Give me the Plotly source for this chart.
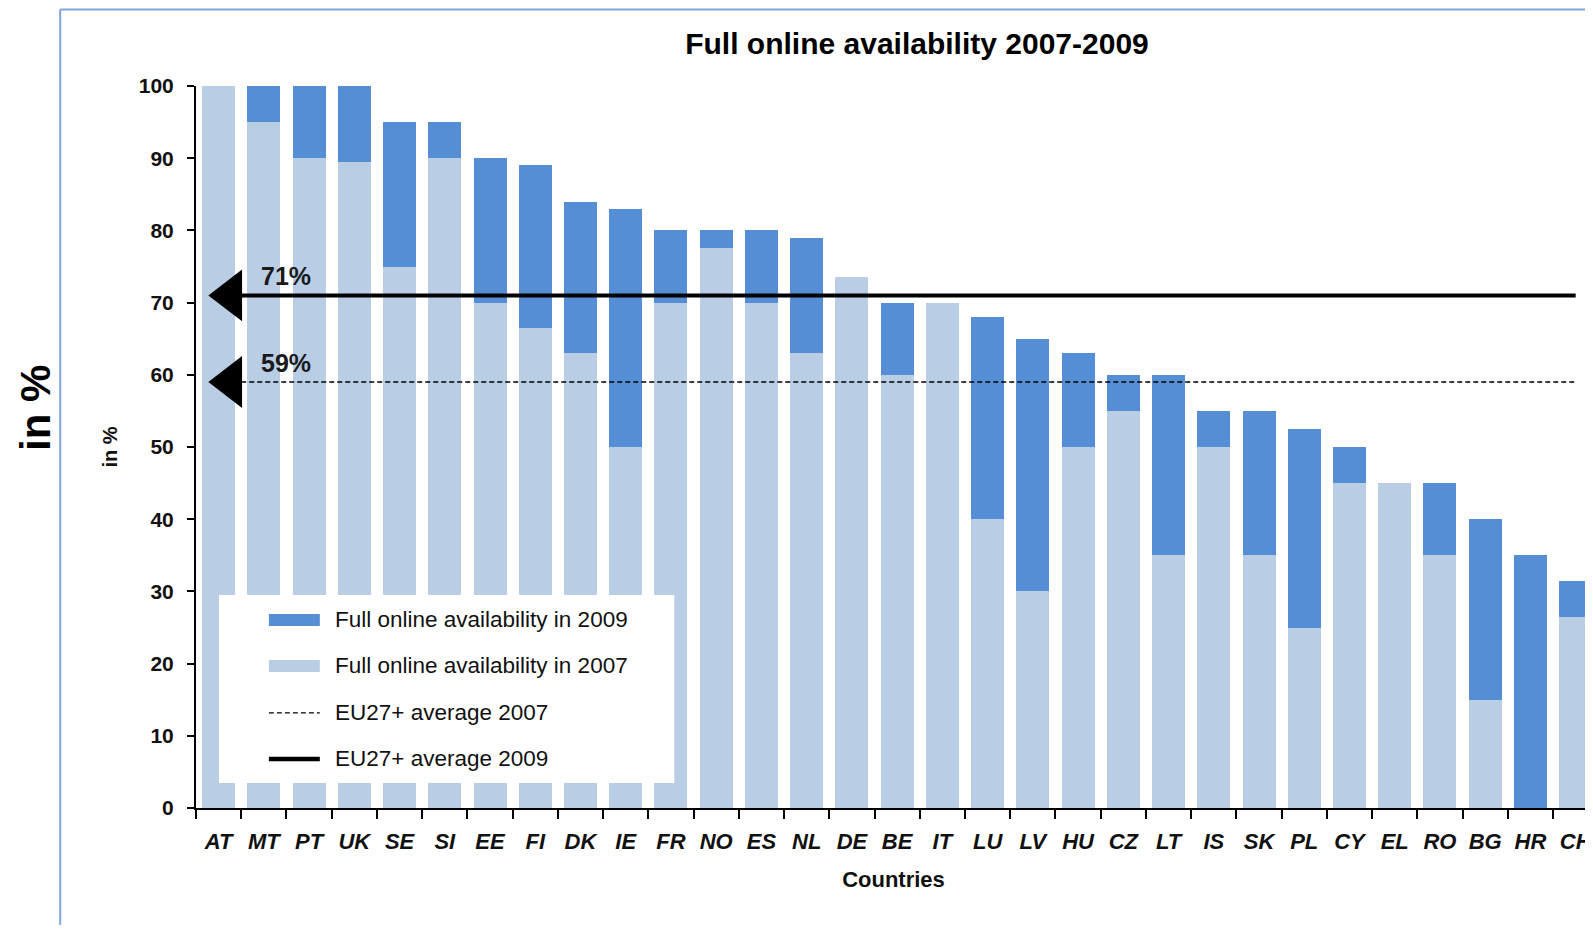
"""
Full online availability 2007-2009
Overlaid bar chart of 2007 vs 2009 values per country with EU27+ averages
"""

import plotly.graph_objects as go

# Data
countries = ['AT', 'MT', 'PT', 'UK', 'SE', 'SI', 'EE', 'FI', 'DK', 'IE', 'FR',
             'NO', 'ES', 'NL', 'DE', 'BE', 'IT', 'LU', 'LV', 'HU', 'CZ', 'LT',
             'IS', 'SK', 'PL', 'CY', 'EL', 'RO', 'BG', 'HR', 'CH']
avail_2009 = [100, 100, 100, 100, 95, 95, 90, 89, 84, 83, 80,
              80, 80, 79, 73.5, 70, 70, 68, 65, 63, 60, 60,
              55, 55, 52.5, 50, 45, 45, 40, 35, 31.5]
avail_2007 = [100, 95, 90, 89.5, 75, 90, 70, 66.5, 63, 50, 70,
              77.5, 70, 63, 73.5, 60, 70, 40, 30, 50, 55, 35,
              50, 35, 25, 45, 45, 35, 15, 0, 26.5]
eu_avg_2007 = 59
eu_avg_2009 = 71

# Page geometry. The html body has an 8px margin, so the figure is a bit
# smaller than the window and all "page" pixel positions are shifted by 8.
PAGE_OFF = 8
W, H = 1585, 917
L, T = 188, 78.4
PLOT_BOTTOM = 800
R, B = 0, H - PLOT_BOTTOM
PLOT_W = W - L - R
PLOT_H = PLOT_BOTTOM - T
CAT_W = 45.3  # pixels per country

DARK = '#558ED5'
LIGHT = '#B9CDE5'
FRAME = '#7FA6DC'
FONT = 'Liberation Sans, Arial, sans-serif'


def px(x):
    """Page pixel x -> paper x."""
    return (x - PAGE_OFF - L) / PLOT_W


def py(y):
    """Page pixel y (from top) -> paper y."""
    return (PLOT_BOTTOM - (y - PAGE_OFF)) / PLOT_H


def main():
    idx = list(range(len(countries)))
    fig = go.Figure()

    # Bars: 2009 behind, 2007 overlaid on top
    fig.add_trace(go.Bar(x=idx, y=avail_2009, width=0.73, marker=dict(color=DARK, line_width=0),
                         name='Full online availability in 2009', showlegend=False))
    fig.add_trace(go.Bar(x=idx, y=avail_2007, width=0.73, marker=dict(color=LIGHT, line_width=0),
                         name='Full online availability in 2007', showlegend=False))

    # Average lines with arrow heads on the left
    line_x = [0.5, idx[-1]]
    fig.add_trace(go.Scatter(x=line_x, y=[eu_avg_2007] * 2, mode='lines',
                             line=dict(color='black', width=1.3, dash='5px,3px'),
                             name='EU27+ average 2007', showlegend=False))
    fig.add_trace(go.Scatter(x=line_x, y=[eu_avg_2009] * 2, mode='lines',
                             line=dict(color='black', width=4),
                             name='EU27+ average 2009', showlegend=False))
    fig.add_trace(go.Scatter(x=[0.27, 0.27], y=[eu_avg_2009, eu_avg_2007], mode='markers',
                             marker=dict(symbol='triangle-left', size=45, color='black'),
                             showlegend=False, hoverinfo='skip'))

    annotations = []
    for avg in (eu_avg_2009, eu_avg_2007):
        annotations.append(dict(x=1.5, y=avg, xref='x', yref='y', yshift=19,
                                text=f'{avg}%', showarrow=False,
                                font=dict(family=FONT, size=25, color='#1a1a1a', weight='bold')))

    # Big rotated label on the far left
    annotations.append(dict(x=px(36), y=py(408), xref='paper', yref='paper',
                            xanchor='center', yanchor='middle',
                            text='in %', textangle=-90, showarrow=False,
                            font=dict(family=FONT, size=42, color='black', weight='bold')))

    shapes = [
        # outer frame
        dict(type='line', xref='paper', yref='paper', x0=px(60), x1=px(60), y0=py(10), y1=py(H + 40),
             line=dict(color=FRAME, width=2)),
        dict(type='line', xref='paper', yref='paper', x0=px(60), x1=px(W + 40), y0=py(10), y1=py(10),
             line=dict(color=FRAME, width=2)),
        # legend box
        dict(type='rect', xref='paper', yref='paper', layer='above', x0=px(219), x1=px(675),
             y0=py(595), y1=py(783), fillcolor='white', line_width=0),
    ]

    # Manual legend (wide swatches like the original)
    legend_rows = [
        ('Full online availability in 2009', 'bar', DARK),
        ('Full online availability in 2007', 'bar', LIGHT),
        ('EU27+ average 2007', 'dash', 'black'),
        ('EU27+ average 2009', 'solid', 'black'),
    ]
    row_y = [620, 666, 713, 759]
    for (label, kind, color), yy in zip(legend_rows, row_y):
        if kind == 'bar':
            shapes.append(dict(type='rect', xref='paper', yref='paper', layer='above',
                               x0=px(269), x1=px(320), y0=py(yy - 6), y1=py(yy + 6),
                               fillcolor=color, line_width=0))
        else:
            shapes.append(dict(type='line', xref='paper', yref='paper', layer='above',
                               x0=px(269), x1=px(320), y0=py(yy), y1=py(yy),
                               line=dict(color=color, width=1.3 if kind == 'dash' else 4.5,
                                         dash='5px,3px' if kind == 'dash' else 'solid')))
        annotations.append(dict(x=px(333), y=py(yy), xref='paper', yref='paper',
                                xanchor='left', yanchor='middle', text=label, showarrow=False,
                                font=dict(family=FONT, size=22.5, color='#111')))

    fig.update_layout(
        width=W, height=H,
        margin=dict(l=L, r=R, t=T, b=B, pad=0),
        paper_bgcolor='white', plot_bgcolor='white',
        barmode='overlay', bargap=0,
        showlegend=False,
        title=dict(text='<b>Full online availability 2007-2009</b>', xref='container', yref='container',
                   x=(917 - PAGE_OFF) / W, y=1 - (43 - PAGE_OFF) / H, xanchor='center', yanchor='middle',
                   font=dict(family=FONT, size=30, color='black')),
        xaxis=dict(range=[-0.5, -0.5 + PLOT_W / CAT_W], tickmode='array', tickvals=idx, ticktext=countries,
                   ticks='', showline=True, linecolor='black', linewidth=2, showgrid=False, zeroline=False,
                   tickfont=dict(family=FONT, size=22, color='#111', weight='bold', style='italic'),
                   ticklabelstandoff=13, ticklabeloverflow='allow',
                   minor=dict(tickmode='array', tickvals=[i - 0.5 for i in idx + [len(idx)]],
                              ticks='outside', ticklen=9, tickwidth=2, tickcolor='black', showgrid=False),
                   title=dict(text='<b>Countries</b>', standoff=18,
                              font=dict(family=FONT, size=22, color='#111'))),
        yaxis=dict(range=[0, 100], tickmode='array', tickvals=list(range(0, 101, 10)),
                   ticks='outside', ticklen=7, tickwidth=2, tickcolor='black',
                   showline=True, linecolor='black', linewidth=2, showgrid=False, zeroline=False,
                   tickfont=dict(family=FONT, size=21, color='#111', weight='bold'),
                   ticklabelstandoff=9,
                   title=dict(text='<b>in %</b>', standoff=16,
                              font=dict(family=FONT, size=20, color='#111'))),
        shapes=shapes,
        annotations=annotations,
    )

    fig.write_html('out.html')
    print('Saved out.html')


if __name__ == '__main__':
    main()
